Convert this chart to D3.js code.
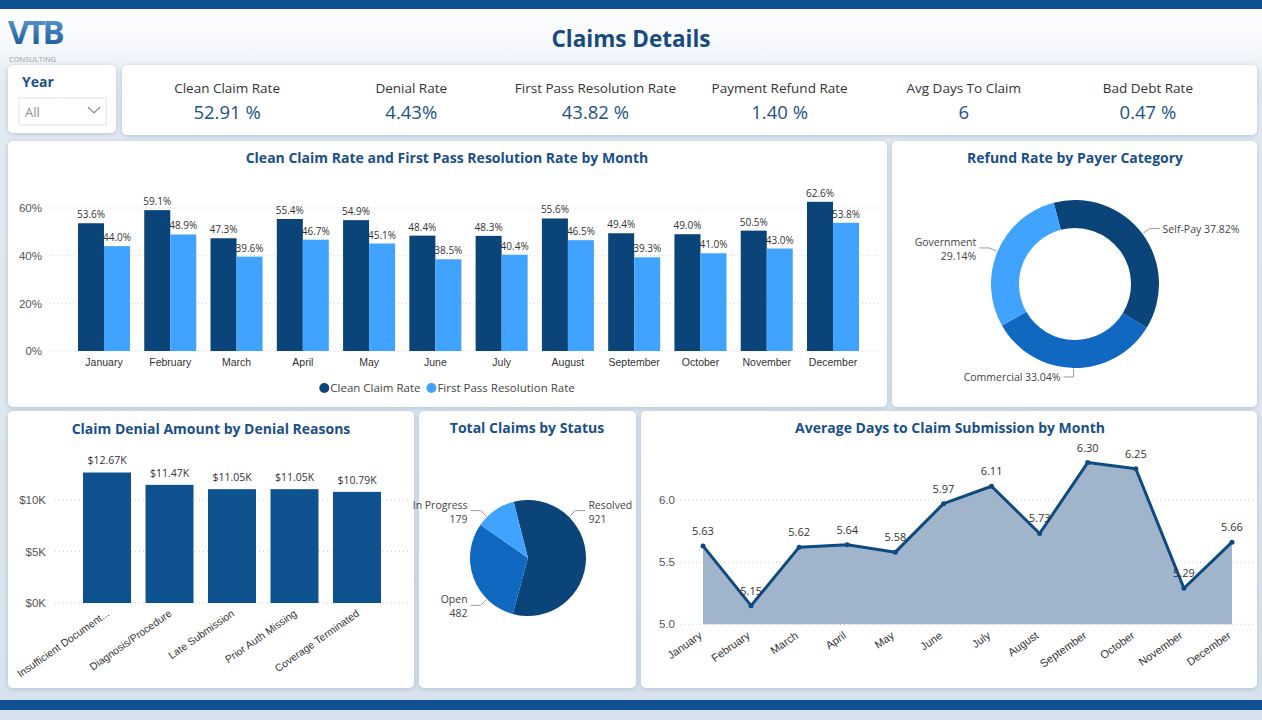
<!DOCTYPE html>
<html>
<head>
<meta charset="utf-8">
<script src="https://cdn.jsdelivr.net/npm/d3@7"></script>
<style>
  body { margin: 0; background: #dde6ef; }
  svg { display: block; font-family: "Open Sans", "Noto Sans", sans-serif; }
  .tick text { fill: #555; }
</style>
</head>
<body>
<script>
// data
var months = ['January', 'February', 'March', 'April', 'May', 'June', 'July', 'August', 'September', 'October', 'November', 'December'];
var cleanClaimRate = [53.6, 59.1, 47.3, 55.4, 54.9, 48.4, 48.3, 55.6, 49.4, 49.0, 50.5, 62.6];
var firstPassRate = [44.0, 48.9, 39.6, 46.7, 45.1, 38.5, 40.4, 46.5, 39.3, 41.0, 43.0, 53.8];
var pctTicks = [0, 20, 40, 60];

var kpiLabels = ['Clean Claim Rate', 'Denial Rate', 'First Pass Resolution Rate', 'Payment Refund Rate', 'Avg Days To Claim', 'Bad Debt Rate'];
var kpiValues = ['52.91 %', '4.43%', '43.82 %', '1.40 %', '6', '0.47 %'];

var payerCategories = ['Self-Pay', 'Commercial', 'Government'];
var refundShares = [37.82, 33.04, 29.14];

var denialReasons = ['Insufficient Document...', 'Diagnosis/Procedure', 'Late Submission', 'Prior Auth Missing', 'Coverage Terminated'];
var denialAmounts = [12670, 11470, 11050, 11050, 10790];
var denialTicks = [0, 5000, 10000];

var claimStatuses = ['Resolved', 'Open', 'In Progress'];
var claimCounts = [921, 482, 179];

var avgDays = [5.63, 5.15, 5.62, 5.64, 5.58, 5.97, 6.11, 5.73, 6.30, 6.25, 5.29, 5.66];
var dayTicks = [5.0, 5.5, 6.0];

var W = 1262, H = 720;
var dark = '#0a4479', mid = '#1168c0', light = '#40a3ff', titleColor = '#1a4f8a';

var svg = d3.select('body').append('svg')
    .attr('width', W)
    .attr('height', H);

var defs = svg.append('defs');
var bg = defs.append('linearGradient').attr('id', 'bg').attr('x1', 0).attr('y1', 0).attr('x2', 0).attr('y2', 1);
bg.append('stop').attr('offset', '0%').attr('stop-color', '#ffffff');
bg.append('stop').attr('offset', '6%').attr('stop-color', '#f7f9fc');
bg.append('stop').attr('offset', '12%').attr('stop-color', '#e3eaf2');
bg.append('stop').attr('offset', '100%').attr('stop-color', '#d8e2ed');

var shadow = defs.append('filter').attr('id', 'shadow')
    .attr('x', '-5%').attr('y', '-5%').attr('width', '110%').attr('height', '110%');
shadow.append('feDropShadow')
    .attr('dx', 0).attr('dy', 1).attr('stdDeviation', 2.5)
    .attr('flood-color', '#8ea9c6').attr('flood-opacity', 0.6);

var logoGrad = defs.append('linearGradient').attr('id', 'logo').attr('x1', 0).attr('y1', 0).attr('x2', 0).attr('y2', 1);
logoGrad.append('stop').attr('offset', '0%').attr('stop-color', '#6aa6dc');
logoGrad.append('stop').attr('offset', '100%').attr('stop-color', '#0f4f8f');

svg.append('rect').attr('width', W).attr('height', H).attr('fill', 'url(#bg)');
svg.append('rect').attr('width', W).attr('height', 9).attr('fill', '#0f5191');
svg.append('rect').attr('y', 700).attr('width', W).attr('height', 10).attr('fill', '#0f5191');

// logo
svg.append('text')
    .attr('x', 8).attr('y', 44)
    .attr('font-size', 33).attr('font-weight', 700)
    .attr('letter-spacing', -3)
    .attr('fill', 'url(#logo)')
    .text('VTB');
svg.append('text')
    .attr('x', 9).attr('y', 62)
    .attr('font-size', 7.5).attr('fill', '#9a9a9a')
    .text('CONSULTING');

svg.append('text')
    .attr('x', 631).attr('y', 47)
    .attr('text-anchor', 'middle')
    .attr('font-size', 22.5).attr('font-weight', 700)
    .attr('fill', '#174a80')
    .text('Claims Details');

// panels
var panels = [
    [8, 65, 108, 68], [122, 65, 1135, 70],
    [8, 141, 879, 266], [892, 141, 365, 266],
    [8, 411, 406, 277], [419, 411, 217, 277], [641, 411, 616, 277]
];
svg.append('g').selectAll('rect')
    .data(panels)
    .enter()
    .append('rect')
    .attr('x', d => d[0]).attr('y', d => d[1])
    .attr('width', d => d[2]).attr('height', d => d[3])
    .attr('rx', 5)
    .attr('fill', '#fff')
    .attr('filter', 'url(#shadow)');

function title(x, y, t) {
    svg.append('text')
        .attr('x', x).attr('y', y)
        .attr('text-anchor', 'middle')
        .attr('font-size', 14).attr('font-weight', 700)
        .attr('fill', titleColor)
        .text(t);
}

// year slicer
svg.append('text').attr('x', 22).attr('y', 87)
    .attr('font-size', 14).attr('font-weight', 700).attr('fill', titleColor).text('Year');
svg.append('rect').attr('x', 19).attr('y', 98).attr('width', 87).attr('height', 27)
    .attr('fill', '#fff').attr('stroke', '#e2e2e2');
svg.append('text').attr('x', 25).attr('y', 117)
    .attr('font-size', 13).attr('fill', '#8a8a8a').text('All');
svg.append('path').attr('d', 'M88,107 L94,113 L100,107')
    .attr('fill', 'none').attr('stroke', '#8a8a8a').attr('stroke-width', 1.2);

// KPI cards
var kx = d3.scaleBand().domain(kpiLabels).range([135, 1240]);
var kpi = svg.append('g').selectAll('g')
    .data(kpiLabels)
    .enter()
    .append('g')
    .attr('transform', d => `translate(${kx(d) + kx.bandwidth() / 2}, 0)`);
kpi.append('text')
    .attr('y', 93).attr('text-anchor', 'middle')
    .attr('font-size', 13.5).attr('fill', '#333')
    .text(d => d);
kpi.append('text')
    .attr('y', 119).attr('text-anchor', 'middle')
    .attr('font-size', 18.5).attr('fill', '#1d5289')
    .text((d, i) => kpiValues[i]);

// ---- Clean claim vs first pass bar chart
title(447, 163, 'Clean Claim Rate and First Pass Resolution Rate by Month');

var x0 = d3.scaleBand().domain(months).range([70.85, 866.15]).paddingInner(0.215).paddingOuter(0.1075);
var x1 = d3.scaleBand().domain(['clean', 'fpr']).range([0, x0.bandwidth()]);
var yPct = d3.scaleLinear().domain([0, 60]).range([351, 208]);
var barColor = { clean: dark, fpr: light };

var g1 = svg.append('g');
g1.append('g').selectAll('line')
    .data(pctTicks)
    .enter()
    .append('line')
    .attr('x1', 50).attr('x2', 880)
    .attr('y1', d => yPct(d)).attr('y2', d => yPct(d))
    .attr('stroke', '#d0d0d0').attr('stroke-dasharray', '1,3');

g1.append('g')
    .attr('transform', 'translate(48,0)')
    .call(d3.axisLeft(yPct).tickValues(pctTicks).tickFormat(d => d + '%').tickSize(0).tickPadding(6))
    .call(a => a.select('.domain').remove())
    .selectAll('text').attr('font-size', 11.5);

g1.append('g')
    .attr('transform', 'translate(0,351)')
    .call(d3.axisBottom(x0).tickSize(0).tickPadding(8))
    .call(a => a.select('.domain').remove())
    .selectAll('text').attr('font-size', 10.5).style('fill', '#333');

var monthRows = months.map((m, i) => ({ month: m, vals: [{ key: 'clean', v: cleanClaimRate[i] }, { key: 'fpr', v: firstPassRate[i] }] }));
var grp = g1.append('g').selectAll('g')
    .data(monthRows)
    .enter()
    .append('g')
    .attr('transform', d => `translate(${x0(d.month)},0)`);
grp.selectAll('rect')
    .data(d => d.vals)
    .enter()
    .append('rect')
    .attr('x', d => x1(d.key))
    .attr('y', d => yPct(d.v))
    .attr('width', x1.bandwidth())
    .attr('height', d => yPct(0) - yPct(d.v))
    .attr('fill', d => barColor[d.key]);
grp.selectAll('text')
    .data(d => d.vals)
    .enter()
    .append('text')
    .attr('x', d => x1(d.key) + x1.bandwidth() / 2)
    .attr('y', d => yPct(d.v) - 5)
    .attr('text-anchor', 'middle')
    .attr('font-size', 10).attr('fill', '#333')
    .text(d => d.v.toFixed(1) + '%');

// legend
var legendItems = [['Clean Claim Rate', dark], ['First Pass Resolution Rate', light]];
var leg = g1.append('g');
var lx = 0;
legendItems.forEach(function (it) {
    leg.append('circle').attr('cx', lx + 5).attr('cy', 388).attr('r', 5).attr('fill', it[1]);
    var t = leg.append('text').attr('x', lx + 11).attr('y', 392)
        .attr('font-size', 11.5).attr('fill', '#444').text(it[0]);
    lx += 11 + t.node().getComputedTextLength() + 6;
});
leg.attr('transform', `translate(${447 - lx / 2 + 3},0)`);

// label helper for pie / donut leaders
function sliceLabels(g, arcs, r, angleOf, panelLeft, panelRight, nameOf, valOf) {
    arcs.forEach(function (a) {
        var ang = angleOf(a);
        var sx = Math.sin(ang), sy = -Math.cos(ang);
        var p0 = [sx * (r + 1), sy * (r + 1)];
        var p1 = [sx * (r + 9), sy * (r + 9)];
        var right = sx > 0.01;
        var p2 = [p1[0] + (right ? 10 : -10), p1[1]];
        g.append('path')
            .attr('d', d3.line()([p0, p1, p2]))
            .attr('fill', 'none').attr('stroke', '#999').attr('stroke-width', 1);
        var tx = p2[0] + (right ? 3 : -3);
        var anchor = right ? 'start' : 'end';
        var full = nameOf(a) + ' ' + valOf(a);
        var t = g.append('text').attr('x', tx).attr('y', p2[1] + 4)
            .attr('text-anchor', anchor).attr('font-size', 10.5).attr('fill', '#444').text(full);
        var avail = right ? panelRight - (tx + g.ox) - 6 : (tx + g.ox) - panelLeft - 8;
        if (t.node().getComputedTextLength() > avail) {
            t.attr('y', p2[1] - 2).text(nameOf(a));
            g.append('text').attr('x', tx).attr('y', p2[1] + 12)
                .attr('text-anchor', anchor).attr('font-size', 10.5).attr('fill', '#444').text(valOf(a));
        }
    });
}

// ---- Refund donut
title(1075, 163, 'Refund Rate by Payer Category');
var donutStart = -0.257;
var donutArcs = d3.pie().sort(null).startAngle(donutStart).endAngle(donutStart + 2 * Math.PI)(refundShares);
var donutColor = d3.scaleOrdinal().domain(payerCategories).range([dark, mid, light]);
var gD = svg.append('g').attr('transform', 'translate(1075,284)');
gD.ox = 1075;
gD.selectAll('path')
    .data(donutArcs)
    .enter()
    .append('path')
    .attr('d', d3.arc().innerRadius(56).outerRadius(84))
    .attr('fill', (d, i) => donutColor(payerCategories[i]));
sliceLabels(gD, donutArcs, 84, a => (a.startAngle + a.endAngle) / 2, 892, 1257,
    a => payerCategories[a.index], a => a.data.toFixed(2) + '%');

// ---- Denial bar chart
title(211, 434, 'Claim Denial Amount by Denial Reasons');
var xD = d3.scaleBand().domain(denialReasons).range([64.25, 399.75]).paddingInner(0.232).paddingOuter(0.3);
var yD = d3.scaleLinear().domain([0, 10000]).range([603, 500]);
var g2 = svg.append('g');
g2.append('g').selectAll('line')
    .data(denialTicks)
    .enter()
    .append('line')
    .attr('x1', 55).attr('x2', 410)
    .attr('y1', d => yD(d)).attr('y2', d => yD(d))
    .attr('stroke', '#d0d0d0').attr('stroke-dasharray', '1,3');
g2.append('g')
    .attr('transform', 'translate(50,0)')
    .call(d3.axisLeft(yD).tickValues(denialTicks).tickFormat(d => '$' + d / 1000 + 'K').tickSize(0).tickPadding(4))
    .call(a => a.select('.domain').remove())
    .selectAll('text').attr('font-size', 11.5);
g2.append('g').selectAll('rect')
    .data(denialAmounts)
    .enter()
    .append('rect')
    .attr('x', (d, i) => xD(denialReasons[i]))
    .attr('y', d => yD(d))
    .attr('width', xD.bandwidth())
    .attr('height', d => yD(0) - yD(d))
    .attr('fill', '#0f5290');
g2.append('g').selectAll('text')
    .data(denialAmounts)
    .enter()
    .append('text')
    .attr('x', (d, i) => xD(denialReasons[i]) + xD.bandwidth() / 2)
    .attr('y', d => yD(d) - 8)
    .attr('text-anchor', 'middle')
    .attr('font-size', 10.5).attr('fill', '#333')
    .text(d => '$' + (d / 1000).toFixed(2) + 'K');
g2.append('g')
    .attr('transform', 'translate(0,603)')
    .call(d3.axisBottom(xD).tickSize(0))
    .call(a => a.select('.domain').remove())
    .selectAll('text')
    .attr('font-size', 10.5).style('fill', '#333')
    .attr('text-anchor', 'end')
    .attr('x', 0).attr('y', 0).attr('dy', '0.35em')
    .attr('transform', 'translate(1,9) rotate(-35)');

// ---- Claims status pie
title(527, 433, 'Total Claims by Status');
var pieStart = -0.25;
var pieArcs = d3.pie().sort(null).startAngle(pieStart).endAngle(pieStart + 2 * Math.PI)(claimCounts);
var pieColor = d3.scaleOrdinal().domain(claimStatuses).range([dark, mid, light]);
var gP = svg.append('g').attr('transform', 'translate(528,558)');
gP.ox = 528;
gP.selectAll('path')
    .data(pieArcs)
    .enter()
    .append('path')
    .attr('d', d3.arc().innerRadius(0).outerRadius(58))
    .attr('fill', (d, i) => pieColor(claimStatuses[i]));
// labels sit on the first diagonal inside each slice
function diagonalAngle(a) {
    var diags = [1, 3, 5, 7].map(k => k * Math.PI / 4);
    for (var k = -1; k <= 1; k++) {
        for (var j = 0; j < diags.length; j++) {
            var d = diags[j] + k * 2 * Math.PI;
            if (d > a.startAngle && d < a.endAngle) return d;
        }
    }
    return (a.startAngle + a.endAngle) / 2;
}
sliceLabels(gP, pieArcs, 58, diagonalAngle, 419, 636,
    a => claimStatuses[a.index], a => String(a.data));

// ---- Avg days line/area chart
title(950, 433, 'Average Days to Claim Submission by Month');
var xL = d3.scalePoint().domain(months).range([703, 1232]);
var yL = d3.scaleLinear().domain([5, 6.5]).range([624.3, 437.7]);
var g3 = svg.append('g');
g3.append('g').selectAll('line')
    .data(dayTicks)
    .enter()
    .append('line')
    .attr('x1', 680).attr('x2', 1255)
    .attr('y1', d => yL(d)).attr('y2', d => yL(d))
    .attr('stroke', '#d0d0d0').attr('stroke-dasharray', '1,3');
g3.append('g')
    .attr('transform', 'translate(680,0)')
    .call(d3.axisLeft(yL).tickValues(dayTicks).tickFormat(d3.format('.1f')).tickSize(0).tickPadding(5))
    .call(a => a.select('.domain').remove())
    .selectAll('text').attr('font-size', 11.5);

var pts = months.map((m, i) => ({ m: m, v: avgDays[i] }));
g3.append('path')
    .datum(pts)
    .attr('d', d3.area().x(d => xL(d.m)).y0(yL(5)).y1(d => yL(d.v)))
    .attr('fill', '#a0b5cc');
g3.append('path')
    .datum(pts)
    .attr('d', d3.line().x(d => xL(d.m)).y(d => yL(d.v)))
    .attr('fill', 'none').attr('stroke', '#0d4a80').attr('stroke-width', 3)
    .attr('stroke-linejoin', 'round');
g3.append('g').selectAll('circle')
    .data(pts)
    .enter()
    .append('circle')
    .attr('cx', d => xL(d.m)).attr('cy', d => yL(d.v)).attr('r', 2.5)
    .attr('fill', '#0d4a80');
g3.append('g').selectAll('text')
    .data(pts)
    .enter()
    .append('text')
    .attr('x', d => xL(d.m)).attr('y', d => yL(d.v) - 11)
    .attr('text-anchor', 'middle')
    .attr('font-size', 11).attr('fill', '#333')
    .text(d => d.v.toFixed(2));
g3.append('g')
    .attr('transform', 'translate(0,624)')
    .call(d3.axisBottom(xL).tickSize(0))
    .call(a => a.select('.domain').remove())
    .selectAll('text')
    .attr('font-size', 11).style('fill', '#333')
    .attr('text-anchor', 'end')
    .attr('x', 0).attr('y', 0).attr('dy', '0.35em')
    .attr('transform', 'translate(-3,10) rotate(-35)');
</script>
</body>
</html>
